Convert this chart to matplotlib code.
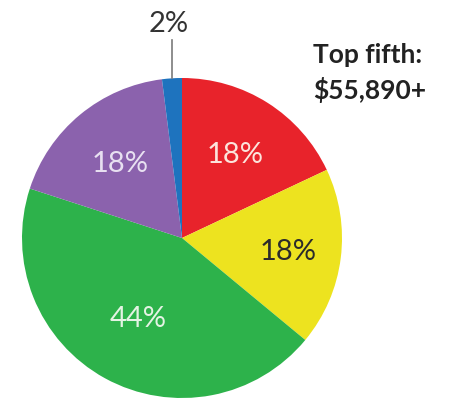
import numpy as np
import matplotlib.pyplot as plt

# income share by group, clockwise from the top
shares = [18, 18, 44, 18, 2]
slice_colors = ['#E8232B', '#EDE31F', '#2DB24B', '#8B62AD', '#1E73BE']
text_colors = ['#FCE4DC', '#2B2B2B', '#E4F3E4', '#E8E0F1', '#333333']
label_dist = [0.62, 0.67, 0.57, 0.61, None]
title_lines = ['Top fifth:', '$55,890+']

W, H = 450, 402
cx, cy, r = 182, H - 239, 160

fig = plt.figure(figsize=(W / 100, H / 100), dpi=100)
ax = fig.add_axes([0, 0, 1, 1])

wedges, _ = ax.pie(shares, colors=slice_colors, startangle=90, counterclock=False,
                   radius=r, center=(cx, cy), wedgeprops=dict(linewidth=0))

for w, v, tc, d in zip(wedges, shares, text_colors, label_dist):
    mid = np.deg2rad((w.theta1 + w.theta2) / 2)
    if d is None:
        # small slice: label above the pie with a leader line
        x0 = cx + r * np.cos(mid)
        ax.plot([x0, x0], [cy + r * np.sin(mid), cy + r * np.sin(mid) + 38],
                color='#7a7a7a', lw=1.2)
        ax.text(x0 - 3, cy + r * np.sin(mid) + 55, f'{v}%', ha='center', va='center',
                fontsize=21, color=tc, family='Lato')
    else:
        ax.text(cx + d * r * np.cos(mid), cy + d * r * np.sin(mid), f'{v}%',
                ha='center', va='center', fontsize=21, color=tc, family='Lato')

ax.text(313, H - 55, title_lines[0], ha='left', va='center', fontsize=19,
        fontweight='bold', color='#222222', family='Lato')
ax.text(313, H - 90, title_lines[1], ha='left', va='center', fontsize=19,
        fontweight='bold', color='#222222', family='Lato')

ax.set_xlim(0, W)
ax.set_ylim(0, H)
ax.set_aspect('equal')
ax.axis('off')

fig.savefig('out.png', dpi=100, facecolor='white')
